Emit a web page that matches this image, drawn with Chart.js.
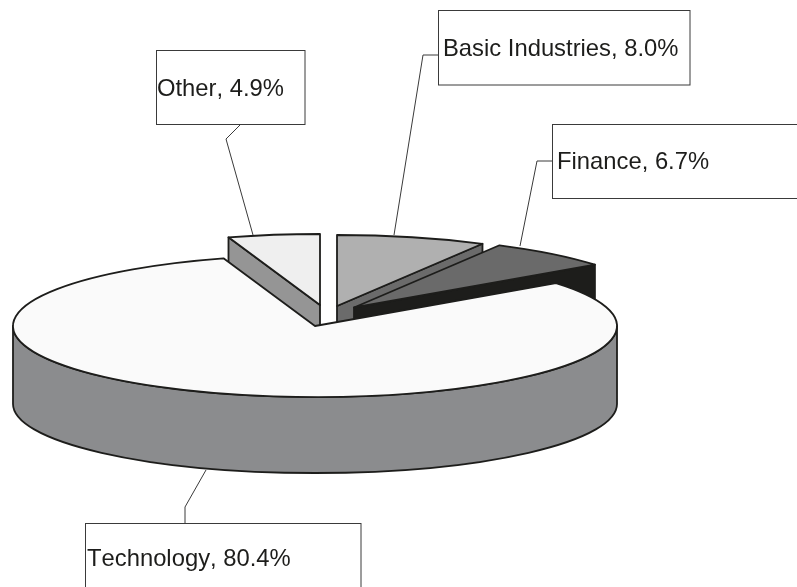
<!DOCTYPE html>
<html>
<head>
<meta charset="utf-8">
<title>Sector split</title>
<script src="https://cdn.jsdelivr.net/npm/chart.js@4"></script>
<style>
  html, body { margin: 0; padding: 0; background: #fff; overflow: hidden; }
  canvas { display: block; }
</style>
</head>
<body>
<canvas id="pie" width="797" height="587"></canvas>
<script>
// Values read from the callouts, in clockwise order from 12 o'clock
const sectors = ["Basic Industries", "Finance", "Technology", "Other"];
const shares = [8.0, 6.7, 80.4, 4.9];

const topColors = ["#b0b0b0", "#6a6a6a", "#fafafa", "#efefef"];
const wallColors = ["#6b6b6b", "#1d1d1b", "#8b8c8e", "#959595"];

// Look of the tilted pie
const RADIUS_X = 302;
const RADIUS_Y = 71;
const RADIUS_Y_BOTTOM = 69; // lower rim is a bit flatter, the original has perspective
const DEPTH = 78;
const OUTLINE = "#1d1d1b";

// How far each slice is pulled out on screen, and paint order (back to front)
const pullX = [22, 39, 0, 5];
const pullY = [-20, -18.5, 0, -21];
const paintOrder = [3, 0, 1, 2];

// Callout boxes and their leader lines, same order as sectors
const callouts = [
  { box: [438.5, 10.5, 251.5, 74.5], textX: 443, baseline: 56, leader: [[438, 55], [423, 55], [394, 235]] },
  { box: [552.5, 124.5, 260, 74], textX: 557, baseline: 169, leader: [[552, 161], [537, 161], [520, 246]] },
  { box: [85.5, 523.5, 275.5, 80], textX: 87, baseline: 566, leader: [[206, 470], [185, 507], [185, 523]] },
  { box: [156.5, 50.5, 148.5, 74], textX: 157, baseline: 96, leader: [[241, 124], [226, 139], [253, 235]] },
];

function wedgePath(ctx, el, cx, cy) {
  ctx.beginPath();
  ctx.moveTo(cx, cy);
  ctx.ellipse(cx, cy, RADIUS_X, RADIUS_Y, 0, el.startAngle, el.endAngle);
  ctx.closePath();
}

function paintFace(ctx, points, color) {
  ctx.beginPath();
  points.forEach((p, i) => (i ? ctx.lineTo(p[0], p[1]) : ctx.moveTo(p[0], p[1])));
  ctx.closePath();
  ctx.fillStyle = color;
  ctx.fill();
  ctx.stroke();
}

function paintCut(ctx, angle, cx, cy, color) {
  const x = cx + RADIUS_X * Math.cos(angle);
  const y = cy + RADIUS_Y * Math.sin(angle);
  paintFace(ctx, [[cx, cy], [x, y], [x, y + DEPTH], [cx, cy + DEPTH]], color);
}

function paintRim(ctx, el, cx, cy, color) {
  const from = Math.max(el.startAngle, 0);
  const to = Math.min(el.endAngle, Math.PI);
  if (to <= from) return;
  ctx.beginPath();
  ctx.ellipse(cx, cy, RADIUS_X, RADIUS_Y, 0, from, to);
  ctx.ellipse(cx, cy + DEPTH, RADIUS_X, RADIUS_Y_BOTTOM, 0, to, from, true);
  ctx.closePath();
  ctx.fillStyle = color;
  ctx.fill();
  ctx.stroke();
}

const tiltedPie = {
  id: "tiltedPie",
  beforeDatasetsDraw(chart) {
    const ctx = chart.ctx;
    const arcs = chart.getDatasetMeta(0).data;

    paintOrder.forEach((i) => {
      const el = arcs[i];
      const cx = el.x + pullX[i];
      const cy = el.y + pullY[i];

      ctx.save();
      ctx.lineWidth = 1.8;
      ctx.lineJoin = "round";
      ctx.strokeStyle = OUTLINE;

      // only the cut faces turned towards the viewer
      if (Math.cos(el.startAngle) < -0.001) paintCut(ctx, el.startAngle, cx, cy, wallColors[i]);
      if (Math.cos(el.endAngle) > 0.001) paintCut(ctx, el.endAngle, cx, cy, wallColors[i]);
      paintRim(ctx, el, cx, cy, wallColors[i]);

      // top face: the library's own arc, squashed onto the ellipse
      ctx.save();
      ctx.translate(cx, cy);
      ctx.scale(RADIUS_X / el.outerRadius, RADIUS_Y / el.outerRadius);
      ctx.translate(-el.x, -el.y);
      el.draw(ctx);
      ctx.restore();

      wedgePath(ctx, el, cx, cy);
      ctx.stroke();
      ctx.restore();
    });
    return false;
  },
  afterDraw(chart) {
    const ctx = chart.ctx;
    callouts.forEach((c, i) => {
      ctx.save();
      ctx.strokeStyle = "#3a3a3a";
      ctx.lineWidth = 1;
      ctx.beginPath();
      c.leader.forEach((p, k) => (k ? ctx.lineTo(p[0], p[1]) : ctx.moveTo(p[0], p[1])));
      ctx.stroke();

      ctx.fillStyle = "#ffffff";
      ctx.fillRect(c.box[0], c.box[1], c.box[2], c.box[3]);
      ctx.strokeRect(c.box[0], c.box[1], c.box[2], c.box[3]);

      ctx.fillStyle = "#1d1d1b";
      ctx.font = '23.8px "Liberation Sans", Arial, sans-serif';
      ctx.fontKerning = "none"; // the "Te" in the original is not kerned
      ctx.textBaseline = "alphabetic";
      ctx.fillText(sectors[i] + ", " + shares[i].toFixed(1) + "%", c.textX, c.baseline);
      ctx.restore();
    });
  },
};

new Chart(document.getElementById("pie").getContext("2d"), {
  type: "pie",
  data: {
    labels: sectors,
    datasets: [
      {
        data: shares,
        backgroundColor: topColors,
        borderWidth: 0,
      },
    ],
  },
  options: {
    responsive: false,
    animation: false,
    // puts the pie centre at the spot the tilted ellipse is drawn around
    layout: { padding: { left: 0, right: 167, top: 65, bottom: 0 } },
    plugins: {
      legend: { display: false },
      tooltip: { enabled: false },
    },
  },
  plugins: [tiltedPie],
});
</script>
</body>
</html>
